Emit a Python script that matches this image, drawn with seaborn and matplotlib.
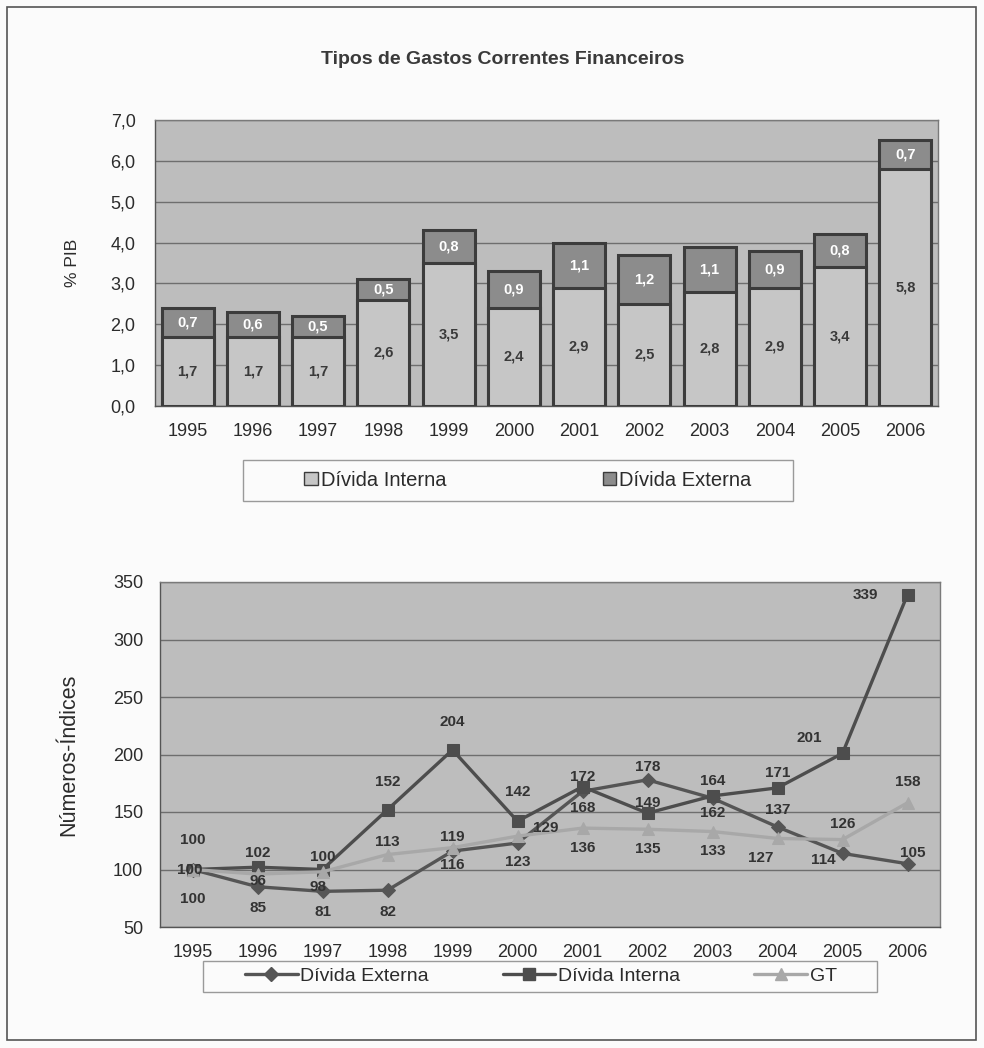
import matplotlib
matplotlib.use("Agg")
import matplotlib.pyplot as plt
from matplotlib.patches import Rectangle, Patch
from matplotlib.lines import Line2D
import seaborn as sns
import pandas as pd

# --- data -----------------------------------------------------------------
anos = [1995, 1996, 1997, 1998, 1999, 2000, 2001, 2002, 2003, 2004, 2005, 2006]

# Gastos correntes financeiros, % do PIB
divida_interna_pib = [1.7, 1.7, 1.7, 2.6, 3.5, 2.4, 2.9, 2.5, 2.8, 2.9, 3.4, 5.8]
divida_externa_pib = [0.7, 0.6, 0.5, 0.5, 0.8, 0.9, 1.1, 1.2, 1.1, 0.9, 0.8, 0.7]

# Números-índices (1995 = 100)
idx_divida_externa = [100, 85, 81, 82, 116, 123, 168, 178, 162, 137, 114, 105]
idx_divida_interna = [100, 102, 100, 152, 204, 142, 172, 149, 164, 171, 201, 339]
idx_gt = [100, 96, 98, 113, 119, 129, 136, 135, 133, 127, 126, 158]

titulo = "Tipos de Gastos Correntes Financeiros"

# label offsets (points) for the index labels
off_ext = [(0, -21), (0, -15), (0, -15), (0, -16), (0, -10), (0, -14),
           (0, -12), (0, 9), (0, -11), (0, 12), (-14, -5), (4, 8)]
off_int = [(0, 21), (0, 10), (0, 9), (0, 20), (0, 20), (0, 21),
           (0, 7), (0, 7), (0, 11), (0, 11), (-24, 11), (-30, 0)]
off_gt = [(-2, 0), (0, -5), (-3, -11), (0, 9), (0, 8), (20, 6),
          (0, -14), (0, -14), (0, -14), (-12, -14), (0, 11), (0, 15)]

# --- style ----------------------------------------------------------------
sns.set_theme(style="white")
plt.rcParams["font.family"] = ["Liberation Sans", "DejaVu Sans"]

BG_PLOT = "#bdbdbd"
C_INT = "#c6c6c6"
C_EXT = "#8c8c8c"
C_EDGE = "#3c3c3c"
C_GRID = "#6e6e6e"
C_TXT = "#2b2b2b"

fig = plt.figure(figsize=(9.84, 10.48), dpi=100, facecolor="#fbfbfb")
W, H = 984, 1048


def axes_px(x0, y0, x1, y1):
    return fig.add_axes([x0 / W, 1 - y1 / H, (x1 - x0) / W, (y1 - y0) / H])


def frame_px(x0, y0, x1, y1, color, lw):
    fig.patches.append(Rectangle((x0 / W, 1 - y1 / H), (x1 - x0) / W, (y1 - y0) / H,
                                 transform=fig.transFigure, fill=False,
                                 edgecolor=color, linewidth=lw))


def fmt(v):
    return f"{v:.1f}".replace(".", ",")


# outer frame
frame_px(7, 7, 976, 1040, "#555555", 1.2)

fig.text(503 / W, 1 - 59 / H, titulo, ha="center", va="center",
         fontsize=14, fontweight="bold", color="#3a3a3a")

# --- top: stacked bars ----------------------------------------------------
ax1 = axes_px(155, 120, 938, 406)
ax1.set_facecolor(BG_PLOT)
df = pd.DataFrame({"Ano": anos, "Interna": divida_interna_pib,
                   "Externa": divida_externa_pib})
df["Total"] = df["Interna"] + df["Externa"]

sns.barplot(data=df, x="Ano", y="Total", color=C_EXT, saturation=1,
            edgecolor=C_EDGE, linewidth=2.2, width=0.8, ax=ax1, zorder=3)
sns.barplot(data=df, x="Ano", y="Interna", color=C_INT, saturation=1,
            edgecolor=C_EDGE, linewidth=2.2, width=0.8, ax=ax1, zorder=3)

for bar, vi, ve in zip(ax1.containers[1], df["Interna"], df["Externa"]):
    xc = bar.get_x() + bar.get_width() / 2
    ax1.text(xc, vi / 2, fmt(vi), ha="center", va="center", fontsize=10.5,
             fontweight="bold", color="#3a3a3a", zorder=5)
    ax1.text(xc, vi + ve / 2, fmt(ve), ha="center", va="center", fontsize=10.5,
             fontweight="bold", color="white", zorder=5)

ax1.set_ylim(0, 7)
ax1.set_xlim(-0.5, 11.5)
ax1.set_yticks([i for i in range(8)])
ax1.set_yticklabels([fmt(i) for i in range(8)])
ax1.yaxis.grid(True, color=C_GRID, linewidth=1)
ax1.set_axisbelow(True)
ax1.set_xlabel("")
ax1.set_ylabel("% PIB", fontsize=12.5, color=C_TXT, labelpad=22)
ax1.tick_params(axis="both", labelsize=13, colors=C_TXT, length=0)
ax1.tick_params(axis="x", pad=12)
ax1.tick_params(axis="y", pad=14)
for s in ax1.spines.values():
    s.set_color("#7a7a7a")
    s.set_linewidth(1)
ax1.spines["left"].set_color("#555555")
ax1.spines["bottom"].set_color("#555555")

frame_px(243, 460, 793, 501, "#9a9a9a", 1)
leg1 = fig.legend(handles=[Patch(facecolor=C_INT, edgecolor=C_EDGE, label="Dívida Interna"),
                           Patch(facecolor=C_EXT, edgecolor=C_EDGE, label="Dívida Externa")],
                  loc="center", bbox_to_anchor=(528 / W, 1 - 480 / H), ncol=2,
                  fontsize=14.5, frameon=False, handlelength=0.65,
                  handleheight=0.65, handletextpad=0.15, columnspacing=7.8,
                  borderpad=0)
for t in leg1.get_texts():
    t.set_color(C_TXT)

# --- bottom: index lines --------------------------------------------------
ax2 = axes_px(160, 582, 940, 927)
ax2.set_facecolor(BG_PLOT)
series = [
    ("Dívida Externa", idx_divida_externa, "#555555", "D", 7, 2.4, off_ext),
    ("Dívida Interna", idx_divida_interna, "#4d4d4d", "s", 8, 2.4, off_int),
    ("GT", idx_gt, "#a8a8a8", "^", 8, 2.4, off_gt),
]
handles = []
for nome, vals, cor, mk, ms, lw, offs in series:
    sns.lineplot(x=anos, y=vals, color=cor, marker=mk, markersize=ms,
                 markeredgecolor=cor, linewidth=lw, ax=ax2, zorder=3)
    for x, v, (dx, dy) in zip(anos, vals, offs):
        ax2.annotate(str(v), (x, v), xytext=(dx, dy), textcoords="offset points",
                     ha="center", va="center", fontsize=11, fontweight="bold",
                     color="#333333", zorder=6)
    handles.append(Line2D([], [], color=cor, marker=mk, markersize=ms,
                          linewidth=lw, label=nome))

ax2.set_xlim(1994.5, 2006.5)
ax2.set_ylim(50, 350)
ax2.set_xticks(anos)
ax2.set_xticklabels([str(a) for a in anos])
ax2.set_yticks(range(50, 351, 50))
ax2.yaxis.grid(True, color=C_GRID, linewidth=1)
ax2.set_axisbelow(True)
ax2.set_ylabel("Números-Índices", fontsize=15.5, color=C_TXT, labelpad=24)
ax2.tick_params(axis="both", labelsize=13, colors=C_TXT, length=0)
ax2.tick_params(axis="x", pad=12)
ax2.tick_params(axis="y", pad=12)
for s in ax2.spines.values():
    s.set_color("#7a7a7a")
    s.set_linewidth(1)
ax2.spines["left"].set_color("#555555")
ax2.spines["bottom"].set_color("#555555")

frame_px(203, 961, 877, 992, "#9a9a9a", 1)
leg2 = fig.legend(handles=handles, loc="center",
                  bbox_to_anchor=(541 / W, 1 - 976 / H), ncol=3, fontsize=14,
                  frameon=False, handlelength=2.7, handletextpad=0.15,
                  columnspacing=3.8, borderpad=0)
for t in leg2.get_texts():
    t.set_color(C_TXT)

fig.savefig("out.png", dpi=100, facecolor=fig.get_facecolor())
